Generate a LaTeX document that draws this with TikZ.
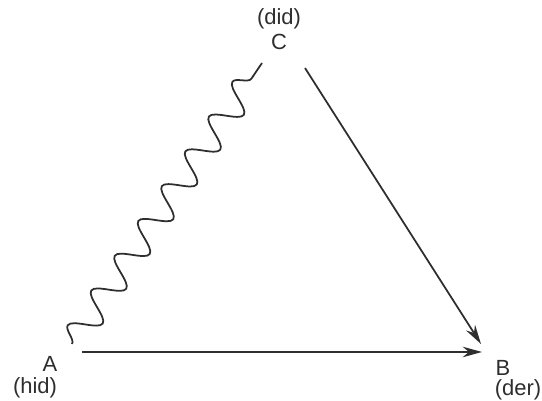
\documentclass[tikz,border=0pt]{standalone}
\usepackage{fontspec}
\setmainfont{Liberation Sans}
\usetikzlibrary{arrows.meta,decorations.pathmorphing}
\definecolor{ink}{HTML}{2E2E2E}

\begin{document}
\begin{tikzpicture}[x=0.02cm, y=-0.02cm, ink,
    lbl/.style={font=\fontsize{12.5}{14}\selectfont, inner sep=1pt},
    link/.style={line width=1pt, -{Stealth[length=11pt, width=6pt]}},
    wave/.style={line width=1pt, decorate,
      decoration={snake, segment length=0.84cm, amplitude=0.28cm}}]
  \useasboundingbox (0,0) rectangle (542,401);
  % vertex labels
  \node[lbl] (A)   at (50,364) {A};
  \node[lbl] (hid) at (35,388) {(hid)};
  \node[lbl] (B)   at (503,368) {B};
  \node[lbl] (der) at (518,390) {(der)};
  \node[lbl] (did) at (279,19) {(did)};
  \node[lbl] (C)   at (279,42) {C};
  % line ends
  \coordinate (a1) at (82,352);
  \coordinate (a2) at (72,344);
  \coordinate (b1) at (482,352);
  \coordinate (b2) at (481,344);
  \coordinate (c1) at (262,63);
  \coordinate (c2) at (305,68);
  % edges
  \draw[link] (a1) -- (b1);
  \draw[link] (c2) -- (b2);
  \draw[wave] (a2) -- (c1);
\end{tikzpicture}
\end{document}
